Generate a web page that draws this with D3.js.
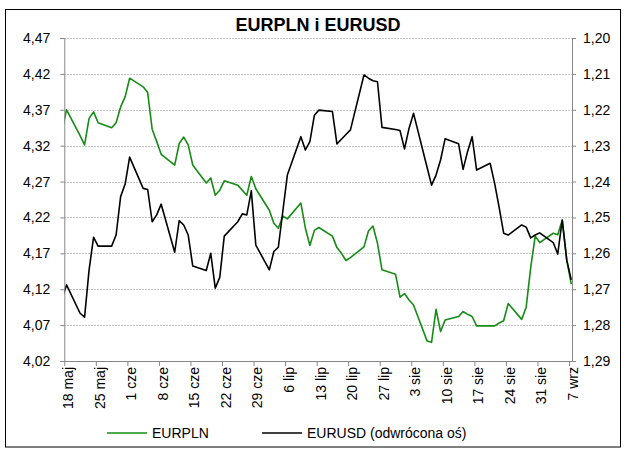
<!DOCTYPE html>
<html><head><meta charset="utf-8">
<script src="https://cdn.jsdelivr.net/npm/d3@7"></script>
<style>
body{margin:0;background:#fff;}
text{font-family:"Liberation Sans",Arial,sans-serif;}
</style></head>
<body><svg id="c" width="627" height="450"></svg>
<script>
const dates = ["2012-05-17","2012-05-18","2012-05-21","2012-05-22","2012-05-23","2012-05-24","2012-05-25","2012-05-28","2012-05-29","2012-05-30","2012-05-31",
"2012-06-01","2012-06-04","2012-06-05","2012-06-06","2012-06-07","2012-06-08","2012-06-11","2012-06-12","2012-06-13","2012-06-14","2012-06-15",
"2012-06-18","2012-06-19","2012-06-20","2012-06-21","2012-06-22","2012-06-25","2012-06-26","2012-06-27","2012-06-28","2012-06-29",
"2012-07-02","2012-07-03","2012-07-04","2012-07-05","2012-07-06","2012-07-09","2012-07-10","2012-07-11","2012-07-12","2012-07-13",
"2012-07-16","2012-07-17","2012-07-18","2012-07-19","2012-07-20","2012-07-23","2012-07-24","2012-07-25","2012-07-26","2012-07-27",
"2012-07-30","2012-07-31","2012-08-01","2012-08-02","2012-08-03","2012-08-06","2012-08-07","2012-08-08","2012-08-09","2012-08-10",
"2012-08-13","2012-08-14","2012-08-15","2012-08-16","2012-08-17","2012-08-20","2012-08-21","2012-08-22","2012-08-23","2012-08-24",
"2012-08-27","2012-08-28","2012-08-29","2012-08-30","2012-08-31","2012-09-03","2012-09-04","2012-09-05","2012-09-06","2012-09-07"];

const eurpln = [4.342,4.370,4.334,4.321,4.358,4.367,4.352,4.345,4.352,4.374,4.388,
4.414,4.402,4.394,4.343,4.326,4.308,4.293,4.323,4.332,4.321,4.293,
4.268,4.275,4.251,4.258,4.271,4.265,4.258,4.251,4.277,4.260,
4.230,4.212,4.205,4.222,4.218,4.240,4.205,4.181,4.202,4.206,
4.194,4.178,4.170,4.160,4.164,4.179,4.201,4.208,4.184,4.147,
4.141,4.109,4.114,4.105,4.098,4.048,4.046,4.092,4.061,4.077,
4.082,4.089,4.085,4.082,4.069,4.069,4.069,4.073,4.076,4.100,
4.078,4.095,4.150,4.194,4.185,4.198,4.196,4.216,4.161,4.127];

const eurusd = [1.2726,1.2688,1.2767,1.2778,1.2646,1.2555,1.2580,1.2580,1.2549,1.2442,1.2407,
1.2332,1.2419,1.2422,1.2512,1.2493,1.2463,1.2597,1.2509,1.2521,1.2549,1.2635,
1.2648,1.2600,1.2697,1.2667,1.2552,1.2512,1.2490,1.2493,1.2426,1.2577,
1.2646,1.2595,1.2583,1.2482,1.2382,1.2275,1.2312,1.2289,1.2215,1.2201,
1.2205,1.2295,1.2282,1.2269,1.2256,1.2103,1.2112,1.2119,1.2122,1.2249,
1.2255,1.2258,1.2309,1.2252,1.2210,1.2360,1.2410,1.2382,1.2340,1.2281,
1.2295,1.2366,1.2316,1.2275,1.2368,1.2349,1.2405,1.2472,1.2544,1.2549,
1.2521,1.2527,1.2557,1.2549,1.2543,1.2570,1.2602,1.2507,1.2619,1.2674];

const leftTicks = [4.02,4.07,4.12,4.17,4.22,4.27,4.32,4.37,4.42,4.47];
const rightTicks = [1.20,1.21,1.22,1.23,1.24,1.25,1.26,1.27,1.28,1.29];
const xTickDates = ["2012-05-18","2012-05-25","2012-06-01","2012-06-08","2012-06-15","2012-06-22","2012-06-29","2012-07-06","2012-07-13","2012-07-20","2012-07-27","2012-08-03","2012-08-10","2012-08-17","2012-08-24","2012-08-31","2012-09-07"];
const monthNames = ["sty","lut","mar","kwi","maj","cze","lip","sie","wrz","paź","lis","gru"];
const title = "EURPLN i EURUSD";
const seriesNames = ["EURPLN","EURUSD (odwrócona oś)"];

const parse = s => { const [y,m,d] = s.split("-").map(Number); return new Date(y, m-1, d); };
const L = 64.3, R = 572, T = 38, B = 361;

const svg = d3.select("#c");
svg.append("rect").attr("x",5.5).attr("y",9.5).attr("width",615).attr("height",437.5)
  .attr("fill","#fff").attr("stroke","#000").attr("stroke-width",1);

const x = d3.scaleTime().domain([new Date(2012,4,18), new Date(2012,8,8)]).range([L, 573.5]);
const yL = d3.scaleLinear().domain([4.02,4.47]).range([B,T]);
const yR = d3.scaleLinear().domain([1.20,1.29]).range([T,B]);
const fmt = d => d.toFixed(2).replace(".", ",");

// gridlines
svg.append("g").selectAll("line").data(leftTicks.slice(1)).join("line")
  .attr("x1",L).attr("x2",R).attr("y1",d=>Math.round(yL(d))+0.5).attr("y2",d=>Math.round(yL(d))+0.5)
  .attr("stroke","#b4b4b4").attr("stroke-dasharray","1.5,1.5").attr("stroke-width",1);

// clip
svg.append("clipPath").attr("id","pc").append("rect").attr("x",L).attr("y",T-5).attr("width",R-L).attr("height",B-T+10);

const pts = dates.map((d,i)=>({t:new Date(parse(d).getTime()+12*3600*1000), p:eurpln[i], u:eurusd[i]}));
const g = svg.append("g").attr("clip-path","url(#pc)");
g.append("path").datum(pts).attr("fill","none").attr("stroke","#158c15").attr("stroke-width",1.6)
  .attr("stroke-linejoin","round")
  .attr("d", d3.line().x(d=>x(d.t)).y(d=>yL(d.p)));
g.append("path").datum(pts).attr("fill","none").attr("stroke","#000").attr("stroke-width",1.6)
  .attr("stroke-linejoin","round")
  .attr("d", d3.line().x(d=>x(d.t)).y(d=>yR(d.u)));

// axes
const axisColor = "#868686";
const ax = svg.append("g").attr("transform",`translate(${L},0)`)
  .call(d3.axisLeft(yL).tickValues(leftTicks).tickFormat(fmt).tickSize(4).tickPadding(10));
const ar = svg.append("g").attr("transform",`translate(${R},0)`)
  .call(d3.axisRight(yR).tickValues(rightTicks).tickFormat(fmt).tickSize(4).tickPadding(7));
const xTicks = xTickDates.map(parse);
const axb = svg.append("g").attr("transform",`translate(0,${B})`)
  .call(d3.axisBottom(x).tickValues(xTicks).tickFormat(d=>d.getDate()+" "+monthNames[d.getMonth()]).tickSize(5).tickSizeOuter(0));
[ax,ar,axb].forEach(a=>{
  a.select(".domain").attr("stroke",axisColor);
  a.selectAll(".tick line").attr("stroke",axisColor);
  a.selectAll("text").attr("font-size",14).attr("fill","#000").style("font-family","'Liberation Sans',Arial,sans-serif");
});
axb.select(".domain").attr("d",`M${L},0.5H${R}`);
axb.selectAll(".tick text").attr("transform","rotate(-90)").attr("text-anchor","end")
  .attr("x",-6).attr("y",0).attr("dy","0.6em");

// title
svg.append("text").attr("x",318).attr("y",31).attr("text-anchor","middle")
  .attr("font-size",18).attr("font-weight","bold").text(title);

// legend
const leg = [{c:"#158c15",x1:107,x2:147,tx:152,n:seriesNames[0]},{c:"#000",x1:262,x2:302,tx:307,n:seriesNames[1]}];
leg.forEach(l=>{
  svg.append("line").attr("x1",l.x1).attr("x2",l.x2).attr("y1",433).attr("y2",433).attr("stroke",l.c).attr("stroke-width",1.6);
  svg.append("text").attr("x",l.tx).attr("y",438).attr("font-size",14).text(l.n);
});
</script></body></html>
